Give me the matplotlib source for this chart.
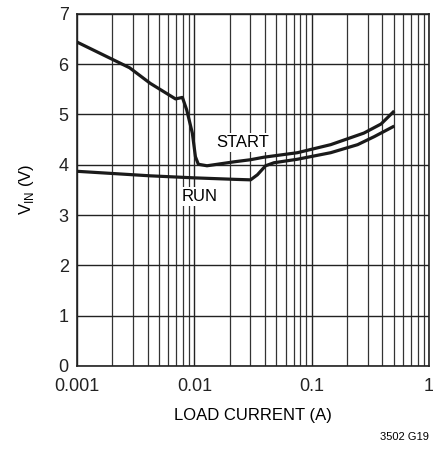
import numpy as np
import matplotlib
matplotlib.use("Agg")
import matplotlib.pyplot as plt
from matplotlib.ticker import LogLocator, FixedLocator, NullFormatter

plt.rcParams["font.family"] = ["Liberation Sans Narrow", "Liberation Sans", "DejaVu Sans"]

# START curve (load current in A, VIN in V)
start_i = [0.001, 0.0028, 0.0042, 0.0069, 0.0079, 0.0086, 0.0096, 0.0102,
           0.0108, 0.0128, 0.022, 0.030, 0.039, 0.0755, 0.145, 0.278, 0.389, 0.505]
start_v = [6.44, 5.93, 5.62, 5.31, 5.34, 5.09, 4.63, 4.16,
           4.01, 3.98, 4.06, 4.10, 4.15, 4.24, 4.40, 4.63, 4.81, 5.07]

# RUN curve
run_i = [0.001, 0.0042, 0.00985, 0.022, 0.0301, 0.0344, 0.0404, 0.0476,
         0.0755, 0.145, 0.246, 0.341, 0.505]
run_v = [3.87, 3.78, 3.74, 3.71, 3.70, 3.80, 3.98, 4.04,
         4.11, 4.24, 4.40, 4.56, 4.77]

fig = plt.figure(figsize=(4.33, 4.5), dpi=100)
ax = fig.add_axes([0.178, 0.187, 0.813, 0.782])

ax.plot(start_i, start_v, color="#1a1a1a", lw=2.3, solid_capstyle="butt", zorder=3)
ax.plot(run_i, run_v, color="#1a1a1a", lw=2.3, solid_capstyle="butt", zorder=3)

ax.set_xscale("log")
ax.set_xlim(0.001, 1)
ax.set_ylim(0, 7)
ax.xaxis.set_major_locator(FixedLocator([0.001, 0.01, 0.1, 1]))
ax.set_xticklabels(["0.001", "0.01", "0.1", "1"])
ax.xaxis.set_minor_locator(LogLocator(base=10, subs=np.arange(2, 10)))
ax.xaxis.set_minor_formatter(NullFormatter())
ax.set_yticks(range(8))
ax.tick_params(which="both", length=0, labelsize=13, colors="#222222")
ax.tick_params(axis="x", pad=9)
ax.tick_params(axis="y", pad=6)
ax.grid(which="major", color="#222222", lw=1.0)
ax.grid(which="minor", axis="x", color="#333333", lw=0.9)
for s in ax.spines.values():
    s.set_color("#222222")
    s.set_linewidth(1.2)

ax.text(0.0153, 4.45, "START", fontsize=12, ha="left", va="center", zorder=2.5,
        bbox=dict(facecolor="white", edgecolor="none", pad=1.5))
ax.text(0.0078, 3.36, "RUN", fontsize=12, ha="left", va="center", zorder=2.5,
        bbox=dict(facecolor="white", edgecolor="none", pad=1.5))

ax.set_xlabel("LOAD CURRENT (A)", fontsize=12, labelpad=9)
ax.set_ylabel("V$_{\\mathregular{IN}}$ (V)", fontsize=12, labelpad=16)
fig.text(0.99, 0.03, "3502 G19", fontsize=8, ha="right", va="center")

fig.savefig("out.png", dpi=100)
